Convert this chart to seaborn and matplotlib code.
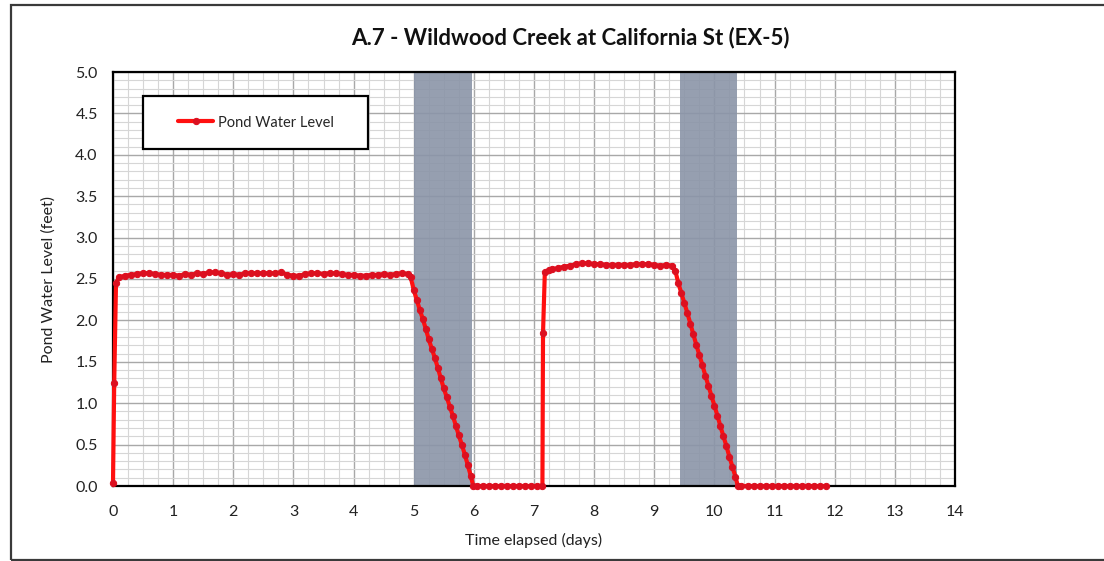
import matplotlib
matplotlib.use("Agg")
import matplotlib.pyplot as plt
import seaborn as sns
import pandas as pd
from matplotlib.patches import Rectangle
from matplotlib.ticker import MultipleLocator, FormatStrFormatter

# ---------------- data ----------------
title = "A.7 - Wildwood Creek at California St (EX-5)"
series_name = "Pond Water Level"
x_label = "Time elapsed (days)"
y_label = "Pond Water Level (feet)"

rise1_t = [0.0, 0.02, 0.05, 0.1]
rise1_v = [0.04, 1.24, 2.45, 2.52]

plateau1_t = [0.2, 0.3, 0.4, 0.5, 0.6, 0.7, 0.8, 0.9, 1.0, 1.1, 1.2, 1.3, 1.4, 1.5,
              1.6, 1.7, 1.8, 1.9, 2.0, 2.1, 2.2, 2.3, 2.4, 2.5, 2.6, 2.7, 2.8, 2.9,
              3.0, 3.1, 3.2, 3.3, 3.4, 3.5, 3.6, 3.7, 3.8, 3.9, 4.0, 4.1, 4.2, 4.3,
              4.4, 4.5, 4.6, 4.7, 4.8, 4.9, 4.95]
plateau1_v = [2.54, 2.55, 2.56, 2.57, 2.57, 2.56, 2.55, 2.55, 2.55, 2.54, 2.56, 2.55, 2.57, 2.56,
              2.58, 2.58, 2.57, 2.55, 2.56, 2.55, 2.57, 2.57, 2.57, 2.57, 2.57, 2.57, 2.58, 2.55,
              2.54, 2.54, 2.56, 2.57, 2.57, 2.56, 2.57, 2.57, 2.56, 2.55, 2.55, 2.54, 2.54, 2.55,
              2.55, 2.56, 2.55, 2.56, 2.57, 2.56, 2.52]

drop1_t = [5.0, 5.05, 5.1, 5.15, 5.2, 5.25, 5.3, 5.35, 5.4, 5.45, 5.5, 5.55, 5.6, 5.65,
           5.7, 5.75, 5.8, 5.85, 5.9, 5.95, 5.99]
drop1_v = [2.37, 2.25, 2.13, 2.02, 1.90, 1.77, 1.66, 1.55, 1.43, 1.30, 1.18, 1.07, 0.96, 0.85,
           0.73, 0.61, 0.50, 0.38, 0.25, 0.12, 0.0]

dry1_t = [6.05, 6.15, 6.25, 6.35, 6.45, 6.55, 6.65, 6.75, 6.85, 6.95, 7.05, 7.14]
dry1_v = [0.0, 0.0, 0.0, 0.0, 0.0, 0.0, 0.0, 0.0, 0.0, 0.0, 0.0, 0.0]

plateau2_t = [7.15, 7.18, 7.25, 7.3, 7.4, 7.5, 7.6, 7.7, 7.8, 7.9, 8.0, 8.1, 8.2, 8.3,
              8.4, 8.5, 8.6, 8.7, 8.8, 8.9, 9.0, 9.1, 9.2, 9.3, 9.35]
plateau2_v = [1.85, 2.58, 2.61, 2.62, 2.63, 2.65, 2.66, 2.68, 2.69, 2.69, 2.68, 2.68, 2.67, 2.67,
              2.67, 2.67, 2.67, 2.68, 2.68, 2.68, 2.67, 2.66, 2.67, 2.66, 2.60]

drop2_t = [9.4, 9.45, 9.5, 9.55, 9.6, 9.65, 9.7, 9.75, 9.8, 9.85, 9.9, 9.95, 10.0, 10.05,
           10.1, 10.15, 10.2, 10.25, 10.3, 10.35, 10.39]
drop2_v = [2.45, 2.33, 2.21, 2.09, 1.96, 1.83, 1.70, 1.58, 1.46, 1.33, 1.21, 1.09, 0.97, 0.85,
           0.72, 0.60, 0.48, 0.35, 0.23, 0.11, 0.0]

dry2_t = [10.45, 10.55, 10.65, 10.75, 10.85, 10.95, 11.05, 11.15, 11.25, 11.35, 11.45,
          11.55, 11.65, 11.75, 11.85]
dry2_v = [0.0, 0.0, 0.0, 0.0, 0.0, 0.0, 0.0, 0.0, 0.0, 0.0, 0.0, 0.0, 0.0, 0.0, 0.0]

# shaded periods (days)
shade_starts = [5.0, 9.42]
shade_ends = [5.97, 10.38]

x_ticks = list(range(0, 15))
y_ticks = [0.0, 0.5, 1.0, 1.5, 2.0, 2.5, 3.0, 3.5, 4.0, 4.5, 5.0]

time = rise1_t + plateau1_t + drop1_t + dry1_t + plateau2_t + drop2_t + dry2_t
level = rise1_v + plateau1_v + drop1_v + dry1_v + plateau2_v + drop2_v + dry2_v
df = pd.DataFrame({"t": time, "level": level})

# ---------------- plot ----------------
sns.set_theme(style="white")
plt.rcParams["font.family"] = ["Lato", "DejaVu Sans"]

fig = plt.figure(figsize=(11.04, 5.61), dpi=100)
ax = fig.add_axes([113 / 1104, 1 - 486 / 561, (955 - 113) / 1104, (486 - 72) / 561])

# outer chart frame
fig.patches.append(Rectangle((11 / 1104, 1 / 561), 1.2, 1 - 6 / 561,
                             transform=fig.transFigure, fill=False,
                             edgecolor="#3a3a3a", linewidth=1.6, zorder=0))

for s, e in zip(shade_starts, shade_ends):
    ax.axvspan(s, e, color="#8b95a8", alpha=0.9, zorder=1, linewidth=0)

sns.lineplot(data=df, x="t", y="level", ax=ax, color="#ff1010", linewidth=3.0,
             marker="o", markersize=4.5, markerfacecolor="#dc1020",
             markeredgecolor="#dc1020", sort=False, estimator=None,
             label=series_name, zorder=3, clip_on=False)

ax.set_xlim(0, 14)
ax.set_ylim(0, 5.0)
ax.set_xticks(x_ticks)
ax.set_yticks(y_ticks)
ax.yaxis.set_major_formatter(FormatStrFormatter("%.1f"))
ax.xaxis.set_minor_locator(MultipleLocator(0.25))
ax.yaxis.set_minor_locator(MultipleLocator(0.1))
ax.grid(which="major", color="#a8a8a8", linewidth=1.0, zorder=0)
ax.grid(which="minor", color="#d6d6d6", linewidth=0.8, zorder=0)
ax.set_axisbelow(True)
ax.tick_params(axis="both", which="both", length=0, labelsize=11.5, colors="#222222")
ax.tick_params(axis="x", pad=14)
ax.tick_params(axis="y", pad=11)

for sp in ax.spines.values():
    sp.set_color("black")
    sp.set_linewidth(1.6)
    sp.set_visible(True)

ax.set_xlabel(x_label, fontsize=11.5, color="#222222", labelpad=10)
ax.set_ylabel(y_label, fontsize=11.5, color="#222222", labelpad=14)

fig.text(570 / 1104, 1 - 38 / 561, title, ha="center", va="center",
         fontsize=16, fontweight="bold", color="#111111")

# legend
leg = ax.legend(loc="center left", bbox_to_anchor=(0.062, 0.878), frameon=False,
                fontsize=10.5, handlelength=2.4, handletextpad=0.3)
ax.add_patch(Rectangle((0.036, 0.814), 0.267, 0.128, transform=ax.transAxes,
                       facecolor="white", edgecolor="black", linewidth=1.6, zorder=4))
leg.set_zorder(5)

fig.savefig("out.png", dpi=100)
